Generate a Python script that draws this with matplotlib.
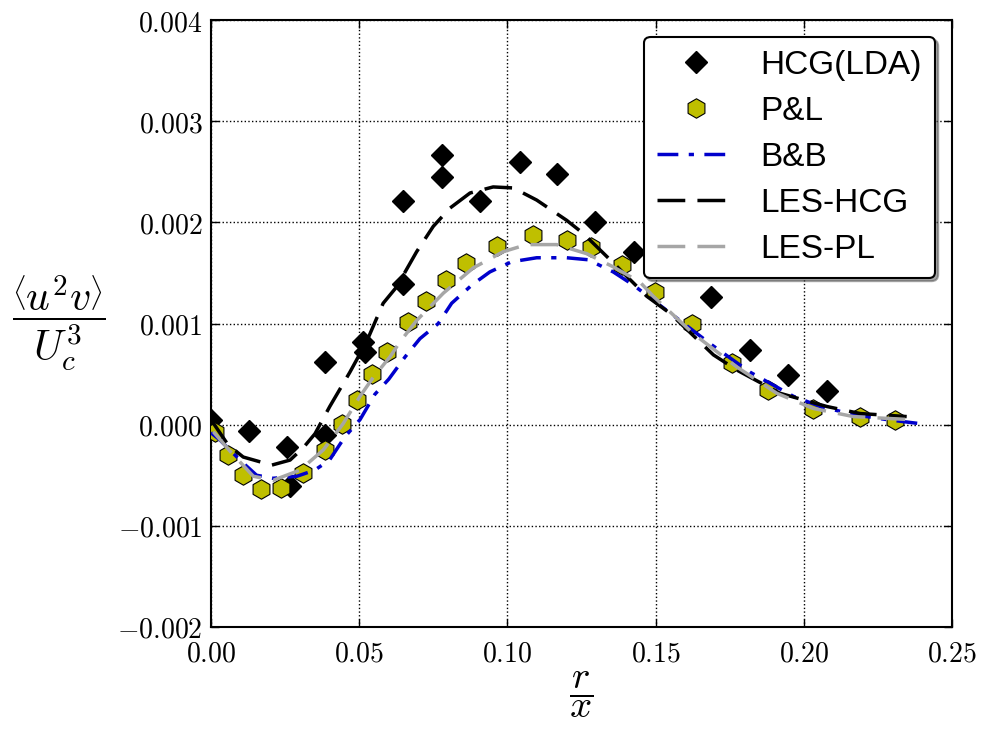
# -*- coding: utf-8 -*-

import numpy as np
import matplotlib
matplotlib.use('Agg')
import matplotlib.pyplot as plt
from matplotlib.ticker import FuncFormatter, MultipleLocator

plt.rcParams['mathtext.fontset'] = 'cm'

#-------------------------------------------------------
# HCG(LDA): pontos experimentais
x_hcg = [0.0, 0.0129, 0.0255, 0.0267, 0.0385, 0.0385, 0.0514, 0.052, 0.0647, 0.0647,
         0.0778, 0.0778, 0.0908, 0.1042, 0.1168, 0.1296, 0.1427, 0.1687, 0.1818, 0.1948, 0.2079]
y_hcg = [0.00005, -0.00006, -0.00022, -0.00061, 0.00062, -0.0001, 0.00082, 0.00072, 0.00139, 0.00221,
         0.00267, 0.00245, 0.00221, 0.0026, 0.00248, 0.0020, 0.00171, 0.00126, 0.00074, 0.00049, 0.00033]

# P&L
x_pl = [0.0013, 0.0058, 0.0109, 0.0168, 0.0235, 0.0311, 0.0385, 0.0441, 0.0492, 0.0542, 0.0593,
        0.0666, 0.0724, 0.0792, 0.0859, 0.0964, 0.1087, 0.1202, 0.1281, 0.1386, 0.1498, 0.1622,
        0.1757, 0.188, 0.203, 0.219, 0.2308]
y_pl = [-0.00007, -0.0003, -0.0005, -0.00064, -0.00063, -0.00048, -0.00025, 0.00001, 0.00024, 0.0005, 0.00072,
        0.00101, 0.00122, 0.00143, 0.0016, 0.00177, 0.00187, 0.00183, 0.00176, 0.00158, 0.00131, 0.0010,
        0.00061, 0.00034, 0.00015, 0.00008, 0.00005]

# B&B
x_bb = [0.0, 0.003, 0.0098, 0.0154, 0.021, 0.029, 0.035, 0.040, 0.0452, 0.0503, 0.0553, 0.0600,
        0.0655, 0.0705, 0.0767, 0.0812, 0.088, 0.0941, 0.1014, 0.1099, 0.120, 0.1273, 0.1357,
        0.1425, 0.1582, 0.1684, 0.1818, 0.1965, 0.2055, 0.2167, 0.228, 0.2392]
y_bb = [-0.00008, -0.00015, -0.00035, -0.0005, -0.00053, -0.00051, -0.00045, -0.00035, -0.00012, 0.00005, 0.0003, 0.00045,
        0.00067, 0.00085, 0.0010, 0.0012, 0.00138, 0.00151, 0.00161, 0.00165, 0.00165, 0.00163, 0.00151,
        0.00138, 0.00103, 0.0008, 0.00052, 0.00028, 0.00018, 0.0001, 0.00005, 0.00001]

# LES-HCG
x_les_hcg = [0.0, 0.0058, 0.0109, 0.0205, 0.0267, 0.0311, 0.0351, 0.0401, 0.0469, 0.0525, 0.0581,
             0.0626, 0.0694, 0.075, 0.0806, 0.0874, 0.0952, 0.102, 0.1099, 0.120, 0.1256, 0.1357,
             0.147, 0.1549, 0.1695, 0.1774, 0.192, 0.2077, 0.219, 0.2347]
y_les_hcg = [0.00005, -0.0002, -0.00032, -0.0004, -0.00035, -0.00023, -0.00009, 0.00018, 0.00052, 0.00082, 0.0012,
             0.00136, 0.00171, 0.00196, 0.00214, 0.00229, 0.00235, 0.00234, 0.00222, 0.00202, 0.00189, 0.0016,
             0.00127, 0.0011, 0.00069, 0.00054, 0.00031, 0.00018, 0.00011, 0.00008]

# LES-PL
x_les_pl = [0.0008, 0.007, 0.0143, 0.021, 0.030, 0.0379, 0.0446, 0.0503, 0.0548, 0.0604,
            0.0638, 0.0694, 0.0784, 0.0885, 0.0986, 0.1065, 0.1166, 0.1268, 0.1357, 0.1447,
            0.1492, 0.1627, 0.1774, 0.1909, 0.2032, 0.2167, 0.2358]
y_les_pl = [-0.00007, -0.00028, -0.00051, -0.00055, -0.00045, -0.00025, 0.00001, 0.00028, 0.00047, 0.00067,
            0.00082, 0.00103, 0.0013, 0.00155, 0.00171, 0.00178, 0.00178, 0.00169, 0.00156, 0.00141,
            0.00127, 0.0009, 0.00057, 0.00031, 0.00016, 0.00008, 0.00005]

#-------------------------------------------------------
fig = plt.figure(figsize=(9.81, 7.31), dpi=100)
ax = fig.add_axes([0.215, 0.1423, 0.7555, 0.8303])

ax.plot(x_hcg, y_hcg, 'D', color='k', markersize=11, label='HCG(LDA)', zorder=3)
ax.plot(x_pl, y_pl, 'h', markerfacecolor='#bfbf00', markeredgecolor='k', markeredgewidth=0.8,
        markersize=14, linestyle='none', label='P&L', zorder=3)
ax.plot(x_bb, y_bb, color='#0000cc', linewidth=2.5, dashes=(6, 3, 1.5, 3), label='B&B', zorder=4)
ax.plot(x_les_hcg, y_les_hcg, color='k', linewidth=2.5, dashes=(8, 3.5), label='LES-HCG', zorder=4)
ax.plot(x_les_pl, y_les_pl, color='#a6a6a6', linewidth=2.5, dashes=(8, 3.5), label='LES-PL', zorder=4)

ax.set_xlim(0.0, 0.25)
ax.set_ylim(-0.002, 0.004)
ax.xaxis.set_major_locator(MultipleLocator(0.05))
ax.yaxis.set_major_locator(MultipleLocator(0.001))
ax.xaxis.set_major_formatter(FuncFormatter(lambda v, p: r'$%.2f$' % v))
ax.yaxis.set_major_formatter(FuncFormatter(lambda v, p: r'$%.3f$' % v))
ax.tick_params(direction='in', top=True, right=True, length=6, width=1, labelsize=20, pad=6)
ax.tick_params(axis='x', pad=9)
for s in ax.spines.values():
    s.set_linewidth(1.5)

ax.grid(True, color='k', linestyle=':', linewidth=1)

ax.set_xlabel(r'$\dfrac{r}{x}$', fontsize=28, labelpad=2)
ax.set_ylabel(r'$\dfrac{\left\langle u^2v \right\rangle}{U_c^3}$', fontsize=30, rotation=0, labelpad=42, va='center')

leg = ax.legend(loc='upper right', numpoints=1, fancybox=True, shadow=True,
                prop={'family': 'Liberation Sans', 'size': 24}, handlelength=2.3,
                handletextpad=0.8, borderaxespad=0.5, labelspacing=0.45, framealpha=1)
leg.get_frame().set_edgecolor('k')
leg.get_frame().set_linewidth(1.5)

plt.savefig('out.png', dpi=100)
